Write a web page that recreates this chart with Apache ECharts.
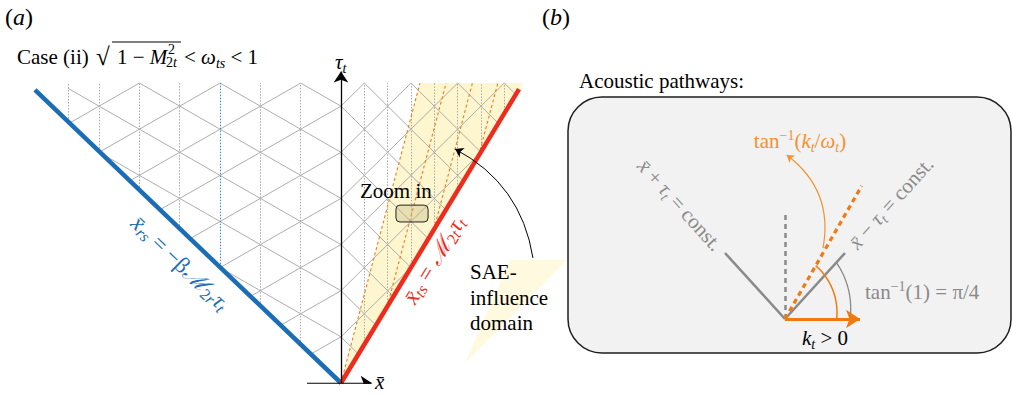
<!DOCTYPE html>
<html><head><meta charset="utf-8">
<script src="https://cdn.jsdelivr.net/npm/echarts@6/dist/echarts.min.js"></script>
<style>html,body{margin:0;padding:0;background:#fff}#c{width:1012px;height:395px}</style>
</head><body><div id="c"></div>
<script>
// ---------------- data (schematic values, in physical units) ----------------
// Panel (a): characteristic lattice in (x̄, τ_t)
const tauLevels = 13;            // lattice height in τ_t levels
const leftHalfCell = 1.745;      // x̄ half-cell of the reflected-side lattice (shallow characteristics)
const rightHalfCell = 1.01;      // x̄ half-cell of the transmitted-side lattice (45° characteristics)
const leftLatticeEdge = -11.82;  // left end of the drawn lattice
const leftColumns = [1, 2, 3, 4, 5, 6];     // dotted columns on the reflected side
const rightColumns = [1, 2, 3, 4, 5, 6, 7]; // dotted columns on the transmitted side
const highlightedColumn = 3;
const blueSlope = -1.043;        // x̄_rs = -β M2r τ_t
const blueTop = 12.7;
const redSlope = 0.605;          // x̄_ts = M2t τ_t
const redTop = 12.74;
const saeRaySlope = 0.263;       // slope of the SAE rays
const saeRayOffsets = [0, 1.13, 2.27, 3.37];
const tauAxisTop = 13.5;
const xAxisRange = [-1.47, 1.33];
const zoomBox = [2.38, 6.98, 3.77, 7.71];
const influenceArrow = [[8.31, 5.42], [4.94, 10.14]];
const saeTriangle = [[7.32, 5.33], [9.78, 5.33], [5.37, 0.87]];
// Panel (b): acoustic pathways
const pathLength = 6.0;          // length of x̄ ± τ_t = const. segments (per axis)
const verticalLength = 9.55;
const kRay = [7.67, 12.1];       // direction of tan^-1(k_t/ω_t)
const kArrowLength = 7.5;
const grayArcRadius = [6.5, 7.26];
const orangeArcRadius = [5.17, 5.74];
const orangeCurve = [[3.8, 6.45], [0.17, 14.9]];

// ---------------- helpers ----------------
function area(poly){let a=0;for(let i=0;i<poly.length;i++){const p=poly[i],q=poly[(i+1)%poly.length];a+=p[0]*q[1]-q[0]*p[1];}return a/2;}
function clip(p, d, poly){
  if (area(poly) < 0) poly = poly.slice().reverse();
  let t0=-1e9, t1=1e9;
  for (let i=0;i<poly.length;i++){
    const a=poly[i], b=poly[(i+1)%poly.length];
    const e=[b[0]-a[0], b[1]-a[1]], n=[-e[1], e[0]];
    const num = n[0]*(p[0]-a[0]) + n[1]*(p[1]-a[1]);
    const den = n[0]*d[0] + n[1]*d[1];
    if (Math.abs(den) < 1e-12){ if (num < 0) return null; continue; }
    const t = -num/den;
    if (den > 0) t0 = Math.max(t0, t); else t1 = Math.min(t1, t);
  }
  if (t0 >= t1 - 1e-9) return null;
  return [[p[0]+t0*d[0], p[1]+t0*d[1]], [p[0]+t1*d[0], p[1]+t1*d[1]]];
}
const leftPoly = [[0,0],[0,tauLevels],[leftLatticeEdge,tauLevels],[leftLatticeEdge, leftLatticeEdge/blueSlope]];
const rightPoly = [[0,0],[redSlope*tauLevels,tauLevels],[0,tauLevels]];

const latticeSegs = [];
for (let c=-40;c<=40;c+=2){
  [[leftHalfCell,leftPoly],[rightHalfCell,rightPoly]].forEach(([h,poly])=>{
    [[-h,1],[h,1]].forEach(d=>{
      const s = clip([h*c,0], d, poly);
      if (s) latticeSegs.push({coords:s});
    });
  });
}
const grayCols = [], blueCols = [];
leftColumns.forEach(j=>{
  const u = -leftHalfCell*j;
  const seg = {coords:[[u, Math.max(0,u/blueSlope)],[u,tauLevels]]};
  (j===highlightedColumn?blueCols:grayCols).push(seg);
});
grayCols.push({coords:[[leftLatticeEdge, leftLatticeEdge/blueSlope],[leftLatticeEdge,tauLevels]]});
rightColumns.forEach(k=>{
  const u = rightHalfCell*k, t0 = u/redSlope;
  if (t0 < tauLevels) grayCols.push({coords:[[u,t0],[u,tauLevels]]});
});
const raySegs = saeRayOffsets.map(a=>{
  const t0 = a/(redSlope-saeRaySlope);
  return {coords:[[a+saeRaySlope*t0,t0],[a+saeRaySlope*tauLevels,tauLevels]]};
});
function arc(r, a0, a1){
  const pts=[]; const n=40;
  for(let i=0;i<=n;i++){const f=i/n, a=(a0+(a1-a0)*f)*Math.PI/180, rr=r[0]+(r[1]-r[0])*f; pts.push([rr*Math.cos(a), rr*Math.sin(a)]);}
  return pts;
}
const kAngle = Math.atan2(kRay[1],kRay[0])*180/Math.PI;

const A = {xAxisIndex:0, yAxisIndex:0, coordinateSystem:'cartesian2d'};
const B = {xAxisIndex:1, yAxisIndex:1, coordinateSystem:'cartesian2d'};
const serif = 'Liberation Serif, DejaVu Serif, serif';

function polySeries(ax, pts, fill, z){
  return Object.assign({type:'custom', data:[[0,0]], z:z, silent:true,
    renderItem:(p,api)=>({type:'polygon', shape:{points:pts.map(q=>api.coord(q))}, style:{fill:fill}})}, ax);
}
function lineSeries(ax, data, style, extra){
  return Object.assign({type:'lines', data:data, silent:true, lineStyle:Object.assign({opacity:1}, style), symbol:'none'}, ax, extra||{});
}

const chart = echarts.init(document.getElementById('c'), null, {renderer:'svg'});
function rich(color, size){
  const s = Math.round(size*0.68);
  return {
    n:{fontSize:size, lineHeight:26, fontFamily:serif, fill:color},
    it:{fontSize:size, lineHeight:26, fontFamily:serif, fontStyle:'italic', fill:color},
    sub:{fontSize:s, lineHeight:s, verticalAlign:'bottom', fontFamily:serif, fontStyle:'italic', fill:color},
    subn:{fontSize:s, lineHeight:s, verticalAlign:'bottom', fontFamily:serif, fill:color},
    sup:{fontSize:s, lineHeight:s, verticalAlign:'top', fontFamily:serif, fill:color}
  };
}
function txt(x, y, text, color, size, opts){
  opts = opts || {};
  return {type:'text', x:x, y:y, z:100, silent:true, rotation:opts.rotation||0,
    style:{text:text, rich:rich(color,size), fill:color, fontSize:size, fontFamily:serif,
      fontStyle:opts.italic?'italic':'normal',
      align:opts.align||'left', verticalAlign:'middle'}};
}
const C = {align:'center'};

chart.setOption({
  animation:false,
  backgroundColor:'#ffffff',
  grid:[{left:6, top:60, width:566, height:323},{left:565, top:99, width:440, height:253}],
  xAxis:[{gridIndex:0,type:'value',min:-14.5,max:10,show:false},{gridIndex:1,type:'value',min:-22,max:22,show:false}],
  yAxis:[{gridIndex:0,type:'value',min:0,max:14,show:false},{gridIndex:1,type:'value',min:-3,max:20,show:false}],
  graphic:[
    {type:'rect', z:0, silent:true, shape:{x:568, y:97, width:443, height:256, r:34}, style:{fill:'#f2f2f2', stroke:'#1e1e1e', lineWidth:1.5}},
    txt(5, 17, '{n|(}{it|a}{n|)}', '#000', 24),
    txt(542, 17, '{n|(}{it|b}{n|)}', '#000', 24),
    // Case (ii)  sqrt(1 - M_2t^2) < ω_ts < 1
    txt(17, 57, 'Case (ii)', '#000', 21),
    txt(96, 56, '√', '#000', 25),
    {type:'line', z:100, silent:true, shape:{x1:112, y1:42, x2:181, y2:42}, style:{stroke:'#000', lineWidth:1.2}},
    txt(117, 57, '{n|1 − }{it|M}', '#000', 21),
    txt(168, 49, '2', '#000', 14),
    txt(166, 62, '{subn|2}{sub|t}', '#000', 20),
    txt(184, 57, '{n|< }{it|ω}{sub|ts}{n| < 1}', '#000', 21),
    txt(335, 62, '{it|τ}{sub|t}', '#000', 21),
    txt(375, 382, '{it|x̄}', '#000', 21),
    txt(360, 191, 'Zoom in', '#000', 21),
    txt(470, 272, 'SAE-', '#000', 21),
    txt(470, 298, 'influence', '#000', 21),
    txt(470, 323, 'domain', '#000', 21),
    txt(434, 260, '{it|x̄}{sub|ts}{n| = }{it|ℳ}{subn|2}{sub|t}{it|τ}{sub|t}', '#ee2b1c', 23, {rotation:1.026, align:'center'}),
    txt(180, 263, '{it|x̄}{sub|rs}{n| = −β}{it|ℳ}{subn|2}{sub|r}{it|τ}{sub|t}', '#1b6db5', 23, {rotation:-0.764, align:'center'}),
    txt(579, 81, 'Acoustic pathways:', '#000', 21),
    txt(800, 141, '{n|tan}{sup|−1}{n|(}{it|k}{sub|t}{n|/}{it|ω}{sub|t}{n|)}', '#f5912e', 21, C),
    txt(680, 205, '{it|x̄}{n| + }{it|τ}{sub|t}{n| = const.}', '#8a8a8a', 21, {rotation:-0.838, align:'center'}),
    txt(891, 203, '{it|x̄}{n| − }{it|τ}{sub|t}{n| = const.}', '#8a8a8a', 21, {rotation:0.838, align:'center'}),
    txt(865, 292, '{n|tan}{sup|−1}{n|(1) = π/4}', '#8a8a8a', 21),
    txt(802, 338, '{it|k}{sub|t}{n| > 0}', '#000', 21)
  ],
  series:[
    polySeries(A, saeTriangle, '#fffadf', 1),
    polySeries(A, [[0,0],[saeRaySlope*tauLevels,tauLevels],[redSlope*tauLevels+0.02,tauLevels]], '#fdf6cf', 1),
    lineSeries(A, latticeSegs, {color:'#adadad', width:1}, {z:3}),
    lineSeries(A, grayCols, {color:'#a9a9a9', width:1, type:[1.5,1.5]}, {z:3}),
    lineSeries(A, blueCols, {color:'#3d86c8', width:1, type:[1.5,1.5]}, {z:3}),
    lineSeries(A, raySegs, {color:'#f07d20', width:1.1, type:[3,2.5]}, {z:4}),
    Object.assign({type:'custom', data:[[0,0]], z:5, silent:true, renderItem:(p,api)=>{
      const a=api.coord([zoomBox[0],zoomBox[3]]), b=api.coord([zoomBox[2],zoomBox[1]]);
      return {type:'rect', shape:{x:a[0], y:a[1], width:b[0]-a[0], height:b[1]-a[1], r:4}, style:{fill:'rgba(190,180,120,0.35)', stroke:'#222', lineWidth:1}};
    }}, A),
    lineSeries(A, [{coords:[[0,0],[blueSlope*blueTop,blueTop]]}], {color:'#1b6db5', width:4.5, cap:'butt'}, {z:6}),
    lineSeries(A, [{coords:[[0,0],[redSlope*redTop,redTop]]}], {color:'#ee2b1c', width:4.5, cap:'butt'}, {z:6}),
    lineSeries(A, [{coords:[[0,0],[0,tauAxisTop]]}], {color:'#000', width:1.3}, {z:7, symbol:['none','arrow'], symbolSize:[7,11]}),
    lineSeries(A, [{coords:[[xAxisRange[0],0],[xAxisRange[1],0]]}], {color:'#000', width:1.3}, {z:7, symbol:['none','arrow'], symbolSize:[7,11]}),
    lineSeries(A, [{coords:influenceArrow}], {color:'#000', width:1, curveness:-0.25}, {z:7, symbol:['none','arrow'], symbolSize:[5,8]}),
    // panel b
    lineSeries(B, [{coords:[[0,0],[-pathLength,pathLength]]},{coords:[[0,0],[pathLength,pathLength]]}], {color:'#8a8a8a', width:2.5}, {z:5}),
    lineSeries(B, [{coords:[[0,0],[0,verticalLength]]}], {color:'#8a8a8a', width:2.5, type:[5,4]}, {z:5}),
    lineSeries(B, [{coords:[[0,0],kRay]}], {color:'#f07a10', width:3.2, type:[5,4]}, {z:6}),
    lineSeries(B, [{coords:arc(grayArcRadius,0,45)}], {color:'#8a8a8a', width:1.3}, {z:5, polyline:true}),
    lineSeries(B, [{coords:arc(orangeArcRadius,0,kAngle)}], {color:'#f07a10', width:1.5}, {z:6, polyline:true}),
    lineSeries(B, [{coords:[[0,0],[kArrowLength,0]]}], {color:'#f07a10', width:3.2}, {z:7, symbol:['none','arrow'], symbolSize:[12,14]}),
    lineSeries(B, [{coords:orangeCurve}], {color:'#f5912e', width:1.2, curveness:-0.31}, {z:6, symbol:['none','arrow'], symbolSize:[5,7]})
  ]
});
</script></body></html>
